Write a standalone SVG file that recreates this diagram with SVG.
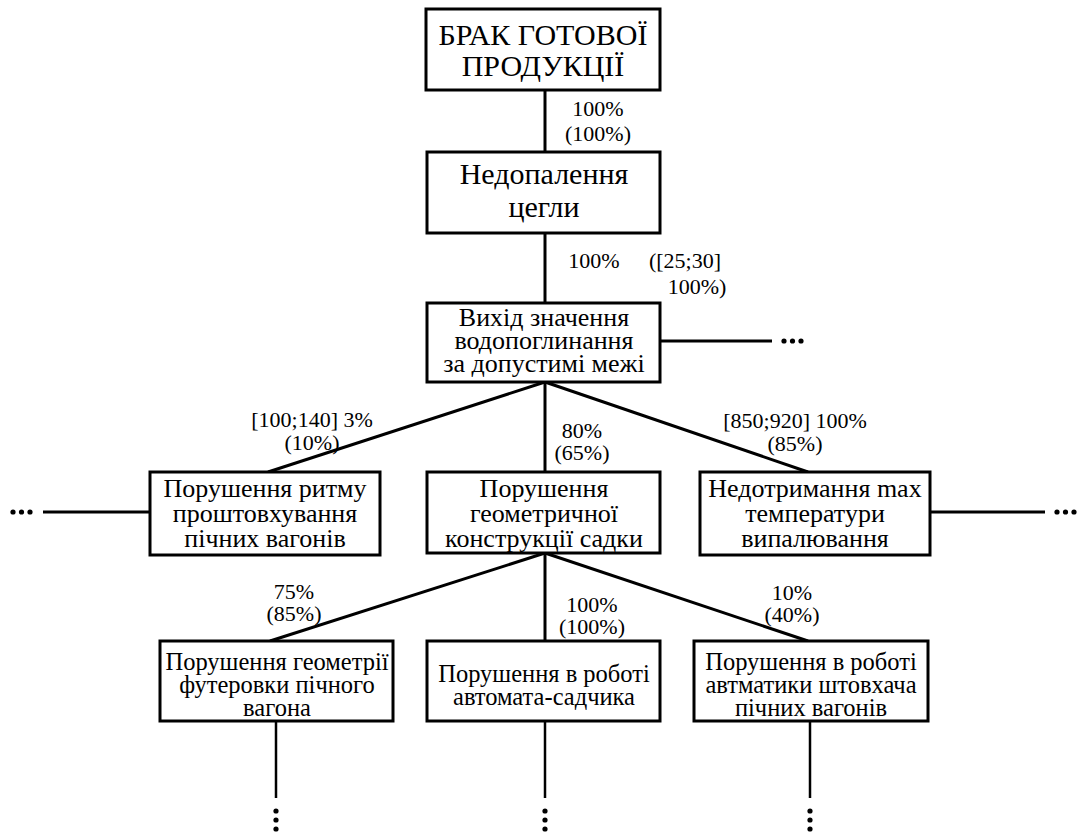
<svg xmlns="http://www.w3.org/2000/svg" width="1078" height="834" viewBox="0 0 1078 834">
<rect width="1078" height="834" fill="#fff"/>
<g id="connectors" stroke="#000" stroke-width="3" fill="none">
<line x1="545" y1="90" x2="545" y2="152"/>
<line x1="545" y1="233" x2="545" y2="303"/>
<line x1="660" y1="341" x2="772" y2="341"/>
<line x1="545" y1="382" x2="268" y2="472"/>
<line x1="545" y1="382" x2="545" y2="472"/>
<line x1="545" y1="382" x2="808" y2="472"/>
<line x1="43" y1="512" x2="150" y2="512"/>
<line x1="930" y1="512" x2="1045" y2="512"/>
<line x1="545" y1="553" x2="270" y2="641"/>
<line x1="545" y1="553" x2="545" y2="641"/>
<line x1="545" y1="553" x2="808" y2="641"/>
<line x1="276" y1="721" x2="276" y2="798" stroke-width="2.5"/>
<line x1="545" y1="721" x2="545" y2="798" stroke-width="2.5"/>
<line x1="810" y1="721" x2="810" y2="798" stroke-width="2.5"/>
</g>
<g id="ellipses" fill="#000">
<circle cx="784" cy="341" r="2.6"/><circle cx="792.5" cy="341" r="2.6"/><circle cx="801" cy="341" r="2.6"/>
<circle cx="13" cy="512" r="2.6"/><circle cx="21.5" cy="512" r="2.6"/><circle cx="30" cy="512" r="2.6"/>
<circle cx="1057" cy="512" r="2.6"/><circle cx="1065.5" cy="512" r="2.6"/><circle cx="1074" cy="512" r="2.6"/>
<circle cx="276" cy="811" r="2.6"/><circle cx="276" cy="820" r="2.6"/><circle cx="276" cy="829" r="2.6"/>
<circle cx="545" cy="811" r="2.6"/><circle cx="545" cy="820" r="2.6"/><circle cx="545" cy="829" r="2.6"/>
<circle cx="810" cy="811" r="2.6"/><circle cx="810" cy="820" r="2.6"/><circle cx="810" cy="829" r="2.6"/>
</g>
<g id="labels">
<text x="598" y="116" font-size="22" font-family="Liberation Serif" text-anchor="middle">100%</text>
<text x="598" y="141" font-size="22" font-family="Liberation Serif" text-anchor="middle">(100%)</text>
<text x="594" y="268" font-size="22" font-family="Liberation Serif" text-anchor="middle">100%</text>
<text x="685" y="268" font-size="22" font-family="Liberation Serif" text-anchor="middle">([25;30]</text>
<text x="697" y="294" font-size="22" font-family="Liberation Serif" text-anchor="middle">100%)</text>
<text x="312" y="427" font-size="22" font-family="Liberation Serif" text-anchor="middle">[100;140] 3%</text>
<text x="312" y="450" font-size="22" font-family="Liberation Serif" text-anchor="middle">(10%)</text>
<text x="582" y="438" font-size="22" font-family="Liberation Serif" text-anchor="middle">80%</text>
<text x="582" y="460" font-size="22" font-family="Liberation Serif" text-anchor="middle">(65%)</text>
<text x="795" y="428" font-size="22" font-family="Liberation Serif" text-anchor="middle">[850;920] 100%</text>
<text x="795" y="451" font-size="22" font-family="Liberation Serif" text-anchor="middle">(85%)</text>
<text x="294" y="599" font-size="22" font-family="Liberation Serif" text-anchor="middle">75%</text>
<text x="294" y="621" font-size="22" font-family="Liberation Serif" text-anchor="middle">(85%)</text>
<text x="592" y="612" font-size="22" font-family="Liberation Serif" text-anchor="middle">100%</text>
<text x="592" y="634" font-size="22" font-family="Liberation Serif" text-anchor="middle">(100%)</text>
<text x="792" y="600" font-size="22" font-family="Liberation Serif" text-anchor="middle">10%</text>
<text x="792" y="622" font-size="22" font-family="Liberation Serif" text-anchor="middle">(40%)</text>
</g>
<g id="n1"><rect x="426" y="9" width="234" height="81" fill="#fff" stroke="#000" stroke-width="3"/>
<text x="543" y="45" font-size="30" font-family="Liberation Serif" text-anchor="middle">БРАК ГОТОВОЇ</text>
<text x="543" y="76" font-size="30" font-family="Liberation Serif" text-anchor="middle">ПРОДУКЦІЇ</text></g>
<g id="n2"><rect x="427" y="152" width="233" height="81" fill="#fff" stroke="#000" stroke-width="3"/>
<text x="544" y="184" font-size="30" font-family="Liberation Serif" text-anchor="middle">Недопалення</text>
<text x="544" y="217" font-size="30" font-family="Liberation Serif" text-anchor="middle">цегли</text></g>
<g id="n3"><rect x="427" y="303" width="233" height="79" fill="#fff" stroke="#000" stroke-width="3"/>
<text x="544" y="326" font-size="26" font-family="Liberation Serif" text-anchor="middle">Вихід значення</text>
<text x="544" y="349" font-size="26" font-family="Liberation Serif" text-anchor="middle">водопоглинання</text>
<text x="544" y="372" font-size="26" font-family="Liberation Serif" text-anchor="middle">за допустимі межі</text></g>
<g id="n4"><rect x="150" y="472" width="230" height="83" fill="#fff" stroke="#000" stroke-width="3"/>
<text x="265" y="497" font-size="26" font-family="Liberation Serif" text-anchor="middle">Порушення ритму</text>
<text x="265" y="522" font-size="26" font-family="Liberation Serif" text-anchor="middle">проштовхування</text>
<text x="265" y="547" font-size="26" font-family="Liberation Serif" text-anchor="middle">пічних вагонів</text></g>
<g id="n5"><rect x="427" y="472" width="233" height="81" fill="#fff" stroke="#000" stroke-width="3"/>
<text x="544" y="497" font-size="26" font-family="Liberation Serif" text-anchor="middle">Порушення</text>
<text x="544" y="522" font-size="26" font-family="Liberation Serif" text-anchor="middle">геометричної</text>
<text x="544" y="547" font-size="26" font-family="Liberation Serif" text-anchor="middle">конструкції садки</text></g>
<g id="n6"><rect x="700" y="472" width="230" height="83" fill="#fff" stroke="#000" stroke-width="3"/>
<text x="815" y="497" font-size="26" font-family="Liberation Serif" text-anchor="middle">Недотримання max</text>
<text x="815" y="522" font-size="26" font-family="Liberation Serif" text-anchor="middle">температури</text>
<text x="815" y="547" font-size="26" font-family="Liberation Serif" text-anchor="middle">випалювання</text></g>
<g id="n7"><rect x="160" y="641" width="233" height="80" fill="#fff" stroke="#000" stroke-width="3"/>
<text x="277" y="670" font-size="24.5" font-family="Liberation Serif" text-anchor="middle">Порушення геометрії</text>
<text x="277" y="693" font-size="24.5" font-family="Liberation Serif" text-anchor="middle">футеровки пічного</text>
<text x="277" y="716" font-size="24.5" font-family="Liberation Serif" text-anchor="middle">вагона</text></g>
<g id="n8"><rect x="427" y="641" width="233" height="80" fill="#fff" stroke="#000" stroke-width="3"/>
<text x="544" y="682" font-size="24.5" font-family="Liberation Serif" text-anchor="middle">Порушення в роботі</text>
<text x="544" y="705" font-size="24.5" font-family="Liberation Serif" text-anchor="middle">автомата-садчика</text></g>
<g id="n9"><rect x="694" y="641" width="234" height="80" fill="#fff" stroke="#000" stroke-width="3"/>
<text x="811" y="670" font-size="24.5" font-family="Liberation Serif" text-anchor="middle">Порушення в роботі</text>
<text x="811" y="693" font-size="24.5" font-family="Liberation Serif" text-anchor="middle">автматики штовхача</text>
<text x="811" y="716" font-size="24.5" font-family="Liberation Serif" text-anchor="middle">пічних вагонів</text></g>
</svg>
